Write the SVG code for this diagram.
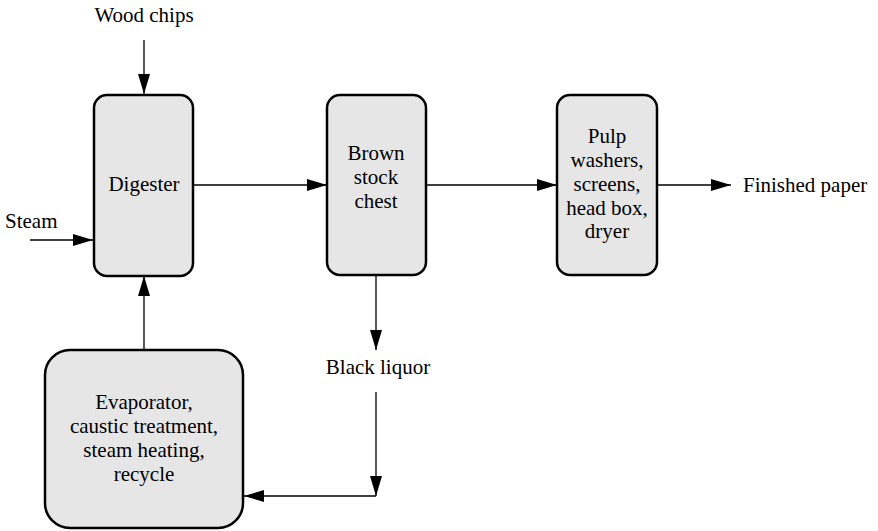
<svg xmlns="http://www.w3.org/2000/svg" width="878" height="531" viewBox="0 0 878 531">
<defs>
<marker id="ah" markerWidth="20" markerHeight="12" refX="20" refY="6" orient="auto" markerUnits="userSpaceOnUse">
<path d="M0,0 L20,6 L0,12 Z" fill="#000"/>
</marker>
<style>
.box{fill:#e6e6e6;stroke:#000;stroke-width:2.5}
.ln{fill:none;stroke:#000;stroke-width:1.3}
text{font-family:'Liberation Serif','Times New Roman','DejaVu Serif',serif;font-size:21px;fill:#000}
.t{text-anchor:middle}
</style>
</defs>
<rect width="878" height="531" fill="#fff"/>
<g id="connectors">
<line class="ln" x1="144" y1="40" x2="144" y2="94" marker-end="url(#ah)"/>
<line class="ln" x1="30" y1="240" x2="93" y2="240" marker-end="url(#ah)"/>
<line class="ln" x1="193" y1="185" x2="327" y2="185" marker-end="url(#ah)"/>
<line class="ln" x1="426" y1="185" x2="557" y2="185" marker-end="url(#ah)"/>
<line class="ln" x1="657" y1="185" x2="731" y2="185" marker-end="url(#ah)"/>
<line class="ln" x1="376" y1="275" x2="376" y2="350" marker-end="url(#ah)"/>
<line class="ln" x1="376" y1="392" x2="376" y2="496" marker-end="url(#ah)"/>
<line class="ln" x1="376" y1="496" x2="244" y2="496" marker-end="url(#ah)"/>
<line class="ln" x1="144" y1="350" x2="144" y2="276" marker-end="url(#ah)"/>
</g>
<g id="wood-chips"><text class="t" x="144" y="22">Wood chips</text></g>
<g id="steam"><text x="5" y="228">Steam</text></g>
<g id="digester">
<rect class="box" x="94" y="95" width="99" height="181" rx="13"/>
<text class="t" x="144" y="191">Digester</text>
</g>
<g id="brown-stock-chest">
<rect class="box" x="327" y="95" width="99" height="180" rx="13"/>
<text class="t" x="376" y="160">Brown</text>
<text class="t" x="376" y="184">stock</text>
<text class="t" x="376" y="208">chest</text>
</g>
<g id="pulp">
<rect class="box" x="557" y="95" width="100" height="180" rx="13"/>
<text class="t" x="607" y="143">Pulp</text>
<text class="t" x="607" y="167">washers,</text>
<text class="t" x="607" y="191">screens,</text>
<text class="t" x="607" y="215">head box,</text>
<text class="t" x="607" y="238">dryer</text>
</g>
<g id="finished-paper"><text x="743" y="192">Finished paper</text></g>
<g id="black-liquor"><text class="t" x="378" y="374">Black liquor</text></g>
<g id="evaporator">
<rect class="box" x="45" y="350" width="198" height="178" rx="25"/>
<text class="t" x="144" y="409">Evaporator,</text>
<text class="t" x="144" y="433">caustic treatment,</text>
<text class="t" x="144" y="457">steam heating,</text>
<text class="t" x="144" y="481">recycle</text>
</g>
</svg>
